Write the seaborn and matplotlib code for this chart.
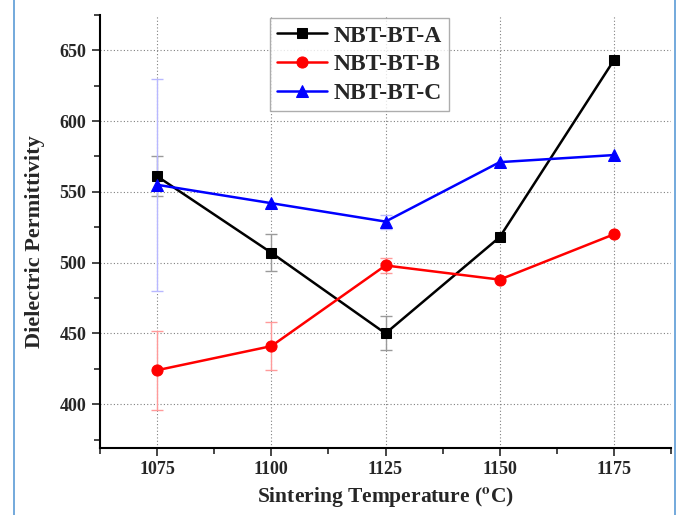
import numpy as np
import pandas as pd
import matplotlib
matplotlib.use("Agg")
import matplotlib.pyplot as plt
from matplotlib.lines import Line2D
from matplotlib.ticker import MultipleLocator
import seaborn as sns

temps = [1075, 1100, 1125, 1150, 1175]
series_names = ["NBT-BT-A", "NBT-BT-B", "NBT-BT-C"]
vals_a = [561, 507, 450, 518, 643]
vals_b = [424, 441, 498, 488, 520]
vals_c = [555, 542, 529, 571, 576]
err_a = [14, 13, 12, 0, 0]
err_b = [28, 17, 5, 0, 0]
err_c = [75, 0, 5, 0, 0]
x_ticks = [1075, 1100, 1125, 1150, 1175]
y_ticks = [400, 450, 500, 550, 600, 650]

sns.set_style("ticks")
plt.rcParams["font.family"] = ["Liberation Serif", "DejaVu Serif"]
plt.rcParams["font.weight"] = "bold"
plt.rcParams["mathtext.fontset"] = "stix"

df = pd.DataFrame({
    "T": temps * 3,
    "eps": vals_a + vals_b + vals_c,
    "err": err_a + err_b + err_c,
    "series": sum([[n] * len(temps) for n in series_names], []),
})

colors = {"NBT-BT-A": "#000000", "NBT-BT-B": "#ff0000", "NBT-BT-C": "#0000ff"}
ebar_colors = {"NBT-BT-A": "#9a9a9a", "NBT-BT-B": "#ff9a9a", "NBT-BT-C": "#b8b8ff"}
markers = {"NBT-BT-A": "s", "NBT-BT-B": "o", "NBT-BT-C": "^"}
msizes = {"NBT-BT-A": 7, "NBT-BT-B": 8, "NBT-BT-C": 8.5}

fig = plt.figure(figsize=(6.87, 5.15), dpi=100)
ax = fig.add_axes([0.1456, 0.130, 0.8311, 0.841])

for name in series_names:
    sub = df[df["series"] == name]
    mask = sub["err"] > 0
    ax.errorbar(sub["T"][mask], sub["eps"][mask], yerr=sub["err"][mask], fmt="none",
                ecolor=ebar_colors[name], elinewidth=1.0, capsize=4, capthick=1.0, zorder=1)

for name in series_names:
    sub = df[df["series"] == name]
    sns.lineplot(data=sub, x="T", y="eps", ax=ax, color=colors[name], marker=markers[name],
                 markersize=msizes[name], markeredgecolor=colors[name], linewidth=1.8,
                 label=name, zorder=3)

ax.set_xlim(1062.5, 1187.5)
ax.set_ylim(369, 675)
ax.set_xticks(x_ticks)
ax.set_yticks(y_ticks)
ax.xaxis.set_minor_locator(MultipleLocator(12.5))
ax.yaxis.set_minor_locator(MultipleLocator(25))
ax.tick_params(axis="both", which="major", direction="out", length=6, width=1.2,
               labelsize=13, pad=4)
ax.tick_params(axis="both", which="minor", direction="out", length=4, width=1.2)
for lab in ax.get_xticklabels() + ax.get_yticklabels():
    lab.set_fontweight("bold")
ax.tick_params(axis="x", pad=3)

ax.grid(True, which="major", linestyle=(0, (1, 2)), color="#808080", linewidth=0.8)
sns.despine(ax=ax, top=True, right=True)
for s in ["left", "bottom"]:
    ax.spines[s].set_linewidth(1.5)
    ax.spines[s].set_color("black")

ax.set_xlabel("Sintering Temperature ($^{\\mathbf{o}}$C)", fontsize=15.5, fontweight="bold")
ax.set_ylabel("Dielectric Permittivity", fontsize=16, fontweight="bold")
ax.xaxis.set_label_coords(0.5, -0.115)
ax.yaxis.set_label_coords(-0.114, 0.476)
ax.xaxis.label.set_va("center")
ax.yaxis.label.set_va("center")

leg = ax.legend(loc="upper left", bbox_to_anchor=(0.298, 0.993), frameon=True, fancybox=False,
                edgecolor="#999999", prop={"family": "Liberation Serif", "weight": "bold", "size": 17},
                handlelength=2.1, handletextpad=0.3, labelspacing=0.3, borderpad=0.3,
                borderaxespad=0)
leg.get_frame().set_linewidth(1.0)

fig.add_artist(Line2D([14 / 687, 14 / 687], [0, 1], color="#5b9bd5", lw=1.2, transform=fig.transFigure))
fig.add_artist(Line2D([675 / 687, 675 / 687], [0, 1], color="#5b9bd5", lw=1.2, transform=fig.transFigure))

fig.savefig("out.png", dpi=100)
